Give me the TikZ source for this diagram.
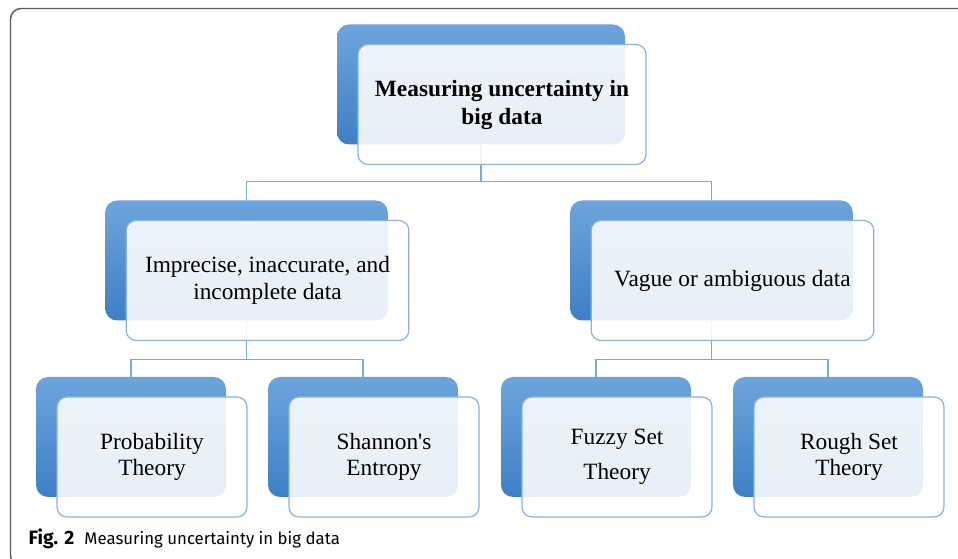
\documentclass[tikz,border=0pt]{standalone}
\usepackage{fontspec}
\setmainfont{Liberation Serif}
\newfontfamily\capfont{Fira Sans}
\usetikzlibrary{positioning}
\definecolor{boxtop}{HTML}{6EA4DC}
\definecolor{boxbot}{HTML}{3E7FC5}
\definecolor{edgeblue}{HTML}{8AB2DC}
\definecolor{linkblue}{HTML}{7FA7D2}
\definecolor{framegray}{HTML}{5A5A5A}
\tikzset{
  back/.style={rounded corners=9pt, top color=boxtop, bottom color=boxbot, draw=none, inner sep=0pt},
  front/.style={rounded corners=7.5pt, draw=edgeblue, line width=0.9pt, fill=white, fill opacity=0.88,
    text opacity=1, align=center, inner sep=0pt, font=\fontsize{17.5}{20}\selectfont},
  title/.style={font=\fontsize{17.5}{21}\selectfont\bfseries},
  topsize/.style={minimum width=216pt, minimum height=90pt},
  midsize/.style={minimum width=212pt, minimum height=90pt},
  lowsize/.style={minimum width=142.5pt, minimum height=90pt},
  link/.style={draw=linkblue, line width=1.1pt},
}

\begin{document}
\begin{tikzpicture}[x=0.75pt, y=-0.75pt]
      \useasboundingbox (0,0) rectangle (958,559);

      % frame of the figure
      \draw[framegray, line width=1.1pt, rounded corners=8pt] (960,8.5) -- (10.5,8.5) -- (10.5,566) -- (40,566);

      \node[back,topsize] (tb) at (481,84.5) {};
      \node[back,midsize] (lb) at (246.5,260.5) {};
      \node[back,midsize] (rb) at (711.5,260.5) {};
      \node[back,lowsize] (pb) at (131,437) {};
      \node[back,lowsize] (sb) at (363,437) {};
      \node[back,lowsize] (fb) at (596,437) {};
      \node[back,lowsize] (gb) at (828,437) {};

      \draw[link] (tb.south) -- ++(0,37) -| (lb.north);
      \draw[link] (tb.south) -- ++(0,37) -| (rb.north);
      \draw[link] (lb.south) -- ++(0,39) -| (pb.north);
      \draw[link] (lb.south) -- ++(0,39) -| (sb.north);
      \draw[link] (rb.south) -- ++(0,39) -| (fb.north);
      \draw[link] (rb.south) -- ++(0,39) -| (gb.north);

      \node[front,topsize,title] (tf) at ([shift={(21,20)}]tb.center) {Measuring uncertainty in\\big data};
      \node[front,midsize] (lf) at ([shift={(21,20)}]lb.center) {Imprecise, inaccurate, and\\incomplete data};
      \node[front,midsize] (rf) at ([shift={(21,20)}]rb.center) {Vague or ambiguous data};
      \node[front,lowsize] (pf) at ([shift={(21,20)}]pb.center) {Probability\\Theory};
      \node[front,lowsize] (sf) at ([shift={(21,20)}]sb.center) {Shannon\textquotesingle s\\Entropy};
      \node[front,lowsize] (ff) at ([shift={(21,20)}]fb.center) {Fuzzy Set\\[6pt]Theory};
      \node[front,lowsize] (gf) at ([shift={(21,20)}]gb.center) {Rough Set\\Theory};

      \node[anchor=base west, font=\capfont\fontsize{12.6}{14}\selectfont] (cap) at (24,545)
            {{\fontsize{14.5}{16}\selectfont\bfseries Fig. 2}\hspace{0.6em}Measuring uncertainty in big data};
    \end{tikzpicture}
\end{document}
